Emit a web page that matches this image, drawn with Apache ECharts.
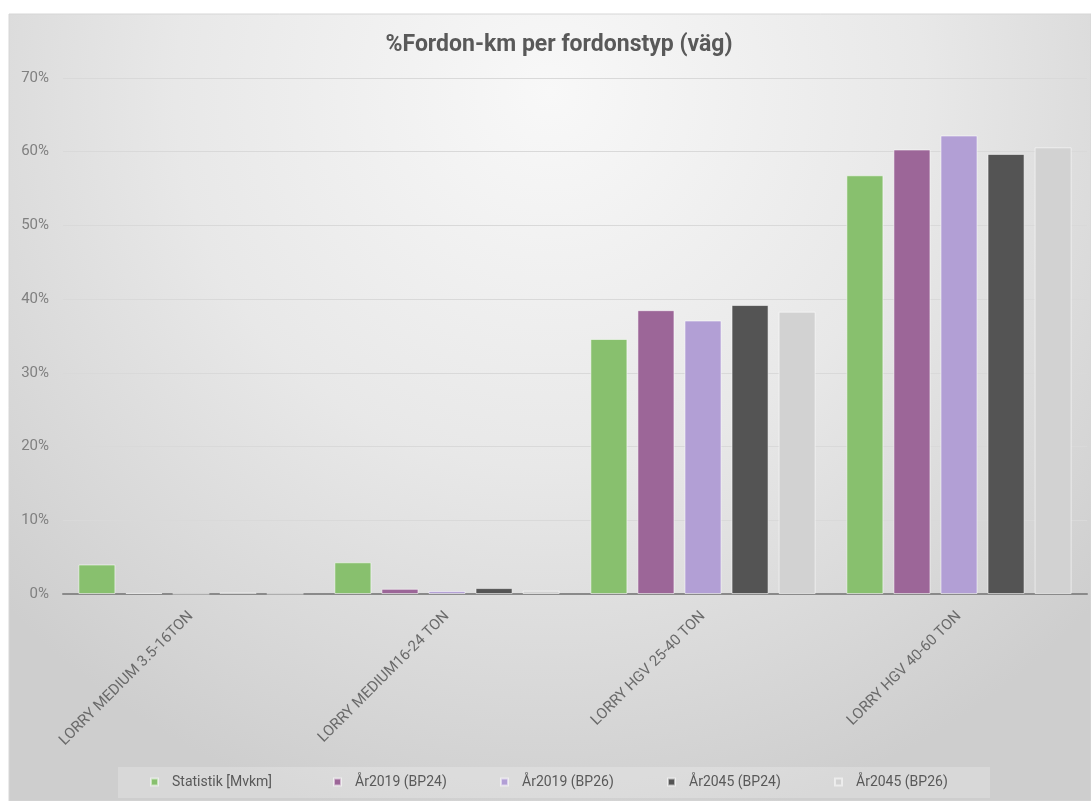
<!DOCTYPE html>
<html>
<head>
<meta charset="utf-8">
<script src="https://cdn.jsdelivr.net/npm/echarts@6/dist/echarts.min.js"></script>
<style>
html,body{margin:0;padding:0;background:#fff;}
#c{width:1091px;height:801px;}
</style>
</head>
<body>
<div id="c"></div>
<script>
const categories = ["LORRY MEDIUM 3.5-16TON", "LORRY MEDIUM16-24 TON", "LORRY HGV 25-40 TON", "LORRY HGV 40-60 TON"];
const seriesNames = ["Statistik [Mvkm]", "År2019 (BP24)", "År2019 (BP26)", "År2045 (BP24)", "År2045 (BP26)"];
const statistik = [4.0, 4.3, 34.6, 56.8];
const ar2019bp24 = [0.15, 0.7, 38.5, 60.3];
const ar2019bp26 = [0.05, 0.4, 37.1, 62.2];
const ar2045bp24 = [0.2, 0.8, 39.2, 59.7];
const ar2045bp26 = [0.05, 0.45, 38.3, 60.6];
const yTicks = [0, 10, 20, 30, 40, 50, 60, 70];

const colors = ["#88c06e", "#9c6698", "#b29fd5", "#545454", "#d2d2d2"];
const values = [statistik, ar2019bp24, ar2019bp26, ar2045bp24, ar2045bp26];
const legendX = [150, 333, 500, 667, 834];

const chart = echarts.init(document.getElementById('c'), null, {renderer: 'canvas'});
const FONT = 'Roboto, "Open Sans", sans-serif';

const option = {
  backgroundColor: '#ffffff',
  animation: false,
  graphic: [
    {
      type: 'rect', z: -10, silent: true,
      shape: {x: 9, y: 14, width: 1082, height: 787},
      style: {
        fill: new echarts.graphic.RadialGradient(0.5, 0.1, 0.95, [
          {offset: 0, color: '#f8f8f8'},
          {offset: 0.5, color: '#e8e8e8'},
          {offset: 1, color: '#cecece'}
        ]),
        stroke: '#d6d6d6', lineWidth: 1
      }
    },
    {
      type: 'rect', z: -5, silent: true,
      shape: {x: 118, y: 767, width: 872, height: 31},
      style: {fill: 'rgba(255,255,255,0.22)'}
    }
  ],
  title: {
    text: '%Fordon-km per fordonstyp (väg)',
    left: 554, textAlign: 'center', top: 29,
    textStyle: {fontFamily: FONT, fontSize: 23, fontWeight: 'bold', color: '#595959'}
  },
  legend: seriesNames.map((n, i) => ({
    data: [n], left: legendX[i], top: 775,
    icon: 'rect', itemWidth: 7, itemHeight: 7, itemGap: 0,
    padding: 0,
    textStyle: {fontFamily: FONT, fontSize: 14, color: '#595959', padding: [0, 0, 0, 9]}
  })),
  grid: {left: 63, right: 4, top: 78, bottom: 207, containLabel: false},
  xAxis: {
    type: 'category', data: categories,
    axisLine: {lineStyle: {color: '#8a8a8a', width: 2}},
    axisTick: {show: false},
    axisLabel: {rotate: 45, fontFamily: FONT, fontSize: 15, color: '#6a6a6a', margin: 20, interval: 0}
  },
  yAxis: {
    type: 'value', min: 0, max: 70, interval: 10,
    axisLine: {show: false}, axisTick: {show: false},
    splitLine: {lineStyle: {color: '#d9d9d9', width: 1}},
    axisLabel: {formatter: v => v + '%', fontFamily: FONT, fontSize: 15, color: '#808080', margin: 14}
  },
  series: seriesNames.map((n, i) => ({
    name: n, type: 'bar', data: values[i],
    barGap: '27%', barCategoryGap: '12%',
    itemStyle: {color: colors[i], borderColor: 'rgba(255,255,255,0.55)', borderWidth: 1}
  }))
};
chart.setOption(option);
</script>
</body>
</html>
